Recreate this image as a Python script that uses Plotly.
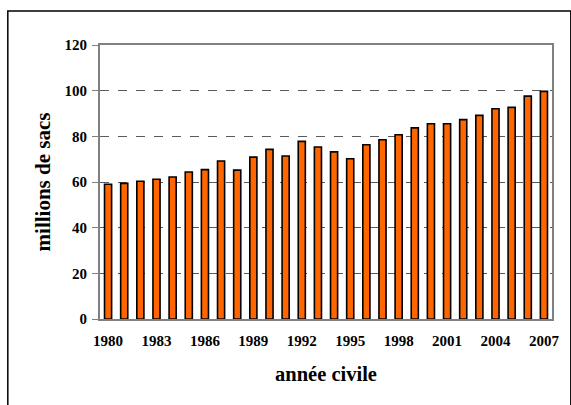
import plotly.graph_objects as go

years = list(range(1980, 2008))
values = [59.0, 59.4, 60.3, 61.2, 62.2, 64.4, 65.4, 69.2, 65.2, 70.9,
          74.3, 71.4, 77.8, 75.3, 73.2, 70.2, 76.3, 78.5, 80.7, 83.7,
          85.5, 85.5, 87.3, 89.2, 92.1, 92.7, 97.6, 99.7]
x_ticks = list(range(1980, 2008, 3))
y_ticks = [0, 20, 40, 60, 80, 100, 120]

font_family = "Liberation Serif, Times New Roman, serif"

fig = go.Figure()
fig.add_trace(go.Bar(
    x=years, y=values, width=0.44,
    marker=dict(color="#FF6600", line=dict(color="black", width=1.6)),
))

fig.update_layout(
    width=571, height=405,
    margin=dict(l=100, r=15, t=45, b=86),
    paper_bgcolor="white", plot_bgcolor="white",
    showlegend=False,
    font=dict(family=font_family, size=15, color="black"),
    xaxis=dict(
        range=[1979.5, 2007.5], tickvals=x_ticks, ticktext=[str(t) for t in x_ticks],
        showgrid=False, zeroline=False, ticks="",
        showline=True, linecolor="#808080", linewidth=2, mirror=True,
        tickfont=dict(family=font_family, size=15, color="black", weight="bold"),
        ticklabelstandoff=7,
        title=dict(text="<b>année civile</b>", font=dict(family=font_family, size=20.5), standoff=19),
    ),
    yaxis=dict(
        range=[0, 120], tickvals=y_ticks,
        showgrid=True, gridcolor="#5a5a5a", griddash="dash", gridwidth=1,
        zeroline=False, ticks="outside", ticklen=6, tickcolor="#808080", tickwidth=1,
        showline=True, linecolor="#808080", linewidth=2, mirror=True,
        tickfont=dict(family=font_family, size=15, color="black", weight="bold"),
        ticklabelstandoff=2,
        title=dict(text="<b>millions de sacs</b>", font=dict(family=font_family, size=21), standoff=8),
    ),
    bargap=0.56,
)

# outer frame (left and top visible)
fig.add_shape(type="rect", xref="paper", yref="paper",
              x0=(7 - 100) / 456, x1=(575 - 100) / 456,
              y0=(319 - 410) / 274, y1=(319 - 11) / 274,
              line=dict(color="black", width=1.5), layer="below")

fig.write_html("out.html", config={"displayModeBar": False, "staticPlot": True})

# remove default page margin so the figure sits at the window origin
with open("out.html", encoding="utf-8") as f:
    html = f.read()
html = html.replace("<head>", "<head><style>html,body{margin:0;padding:0;overflow:hidden;}</style>", 1)
with open("out.html", "w", encoding="utf-8") as f:
    f.write(html)
